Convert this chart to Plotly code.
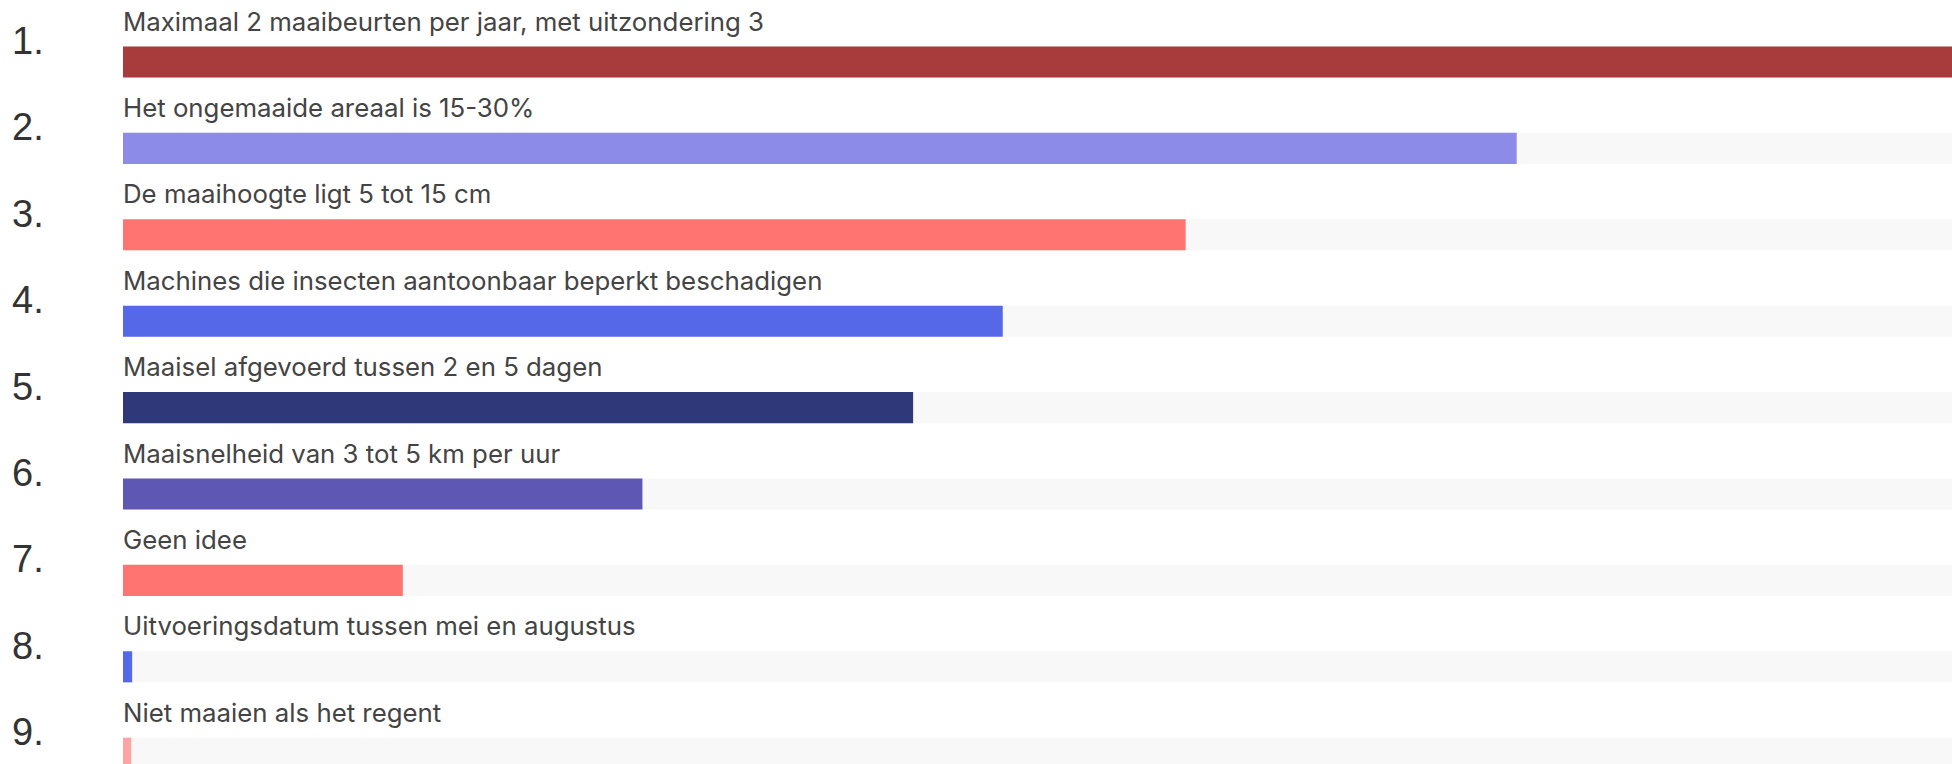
import plotly.graph_objects as go

# Ranking results (share of the visible track;
# the first bar runs past the right edge)
labels = [
    "Maximaal 2 maaibeurten per jaar, met uitzondering 3",
    "Het ongemaaide areaal is 15-30%",
    "De maaihoogte ligt 5 tot 15 cm",
    "Machines die insecten aantoonbaar beperkt beschadigen",
    "Maaisel afgevoerd tussen 2 en 5 dagen",
    "Maaisnelheid van 3 tot 5 km per uur",
    "Geen idee",
    "Uitvoeringsdatum tussen mei en augustus",
    "Niet maaien als het regent",
]
ranks = ["1.", "2.", "3.", "4.", "5.", "6.", "7.", "8.", "9."]
values = [101, 76.2, 58.1, 48.1, 43.2, 28.4, 15.3, 0.5, 0.45]
track_max = 105
colors = ["#A83B3B", "#8C8CE8", "#FF7371", "#5569E8", "#2F3979",
          "#5E58B4", "#FF7371", "#5569E8", "#FFA3A3"]

pos = list(range(len(labels)))

fig = go.Figure()

# light grey background tracks
fig.add_trace(go.Bar(
    x=[track_max] * len(pos), y=pos, orientation="h",
    marker=dict(color="#F8F8F8", cornerradius=6, line=dict(width=0)),
    width=0.36, hoverinfo="skip", showlegend=False,
))

# value bars
fig.add_trace(go.Bar(
    x=values, y=pos, orientation="h",
    marker=dict(color=colors, cornerradius=6, line=dict(width=0)),
    width=0.36, showlegend=False,
    hovertext=labels, hoverinfo="text",
))

# option text above each bar, rank number to the left
for i in pos:
    fig.add_annotation(
        x=0, y=i, xref="x", yref="y", text=labels[i],
        xanchor="left", yanchor="middle", yshift=41, xshift=-2,
        showarrow=False,
        font=dict(family="Inter", size=25.8, color="#444444"),
    )
    fig.add_annotation(
        x=0, y=i, xref="paper", yref="y", text=ranks[i],
        xanchor="right", yanchor="middle", xshift=-77, yshift=21,
        showarrow=False,
        font=dict(family="Liberation Sans", size=38, color="#333333"),
    )

fig.update_layout(
    width=1952, height=764,
    margin=dict(l=123, r=0, t=0, b=0),
    paper_bgcolor="white", plot_bgcolor="white",
    barmode="overlay",
    xaxis=dict(range=[0, 100], visible=False, fixedrange=True),
    yaxis=dict(range=[8.125, -0.7176], visible=False, fixedrange=True),
)

fig.write_html("out.html", config={"displayModeBar": False},
               post_script="document.body.style.margin='0';")
